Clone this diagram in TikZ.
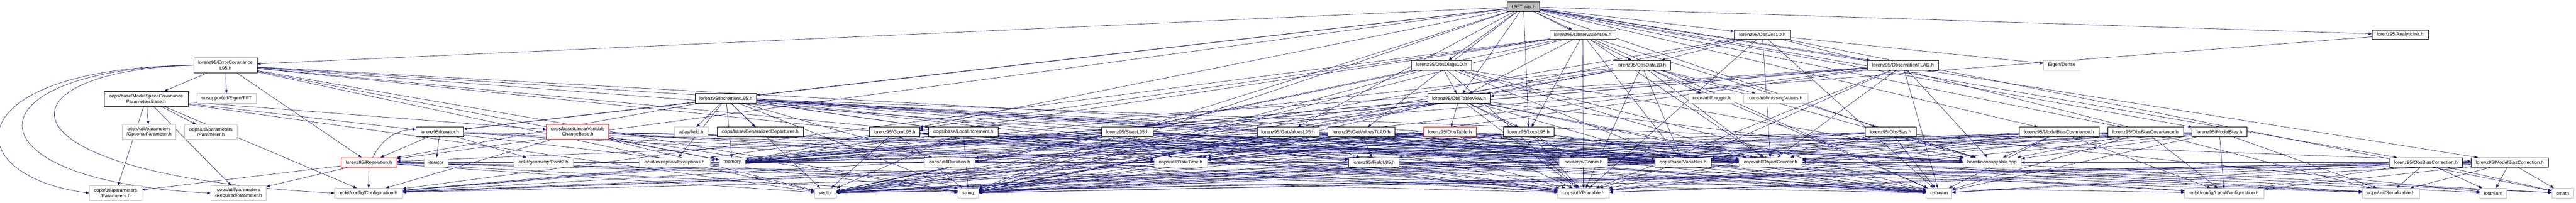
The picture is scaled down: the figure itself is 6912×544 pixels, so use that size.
\documentclass[tikz,border=0pt]{standalone}
\usepackage{fontspec}
\setmainfont{Liberation Sans}
\usetikzlibrary{arrows.meta}
\definecolor{edgeblue}{HTML}{191970}
\definecolor{boxgray}{HTML}{BFBFBF}
\pgfdeclarelayer{bg}
\pgfsetlayers{bg,main}
\begin{document}
\begin{tikzpicture}[x=1pt,y=-1pt,
  box/.style={draw=black, fill=white, line width=1pt, inner sep=0pt, minimum height=26pt, font=\fontsize{12.8}{14.6}\selectfont, align=center},
  ext/.style={box, draw=boxgray},
  trunc/.style={box, draw=red},
  root/.style={box, fill=boxgray},
  two/.style={minimum height=40pt},
  wd/.style={minimum width=#1},
  e/.style={draw=edgeblue, line width=0.9pt, -{Triangle[length=9pt,width=7pt]}}
]
\useasboundingbox (0,0) rectangle (6912,544);
% row 1
\node[root, wd=87pt] (tr) at (4088,18) {L95Traits.h};
% row 2
\node[box, wd=177pt] (obs) at (4247,93) {lorenz95/ObservationL95.h};
\node[box, wd=151pt] (ovec) at (4729,93) {lorenz95/ObsVec1D.h};
\node[box, wd=150pt] (ainit) at (6440,93) {lorenz95/AnalyticInit.h};
% row 3
\node[box, two, wd=170pt] (ecov) at (605,175) {lorenz95/ErrorCovariance\\L95.h};
\node[box, wd=161pt] (odiag) at (3868,175) {lorenz95/ObsDiags1D.h};
\node[box, wd=154pt] (odata) at (4405,175) {lorenz95/ObsData1D.h};
\node[box, wd=191pt] (otlad) at (5106,175) {lorenz95/ObservationTLAD.h};
\node[ext, wd=97pt] (edense) at (5532,175) {Eigen/Dense};
% row 4
\node[box, two, wd=225pt] (mscp) at (392,265) {oops/base/ModelSpaceCovariance\\ParametersBase.h};
\node[ext, wd=159pt] (fft) at (608,264) {unsupported/Eigen/FFT};
\node[box, wd=165pt] (incr) at (1948,264) {lorenz95/IncrementL95.h};
\node[box, wd=167pt] (otv) at (3915,264) {lorenz95/ObsTableView.h};
\node[ext, wd=124pt] (logger) at (4593,264) {oops/util/Logger.h};
\node[ext, wd=172pt] (missv) at (4765,264) {oops/util/missingValues.h};
% row 5
\node[ext, two, wd=144pt] (optp) at (400,354) {oops/util/parameters\\/OptionalParameter.h};
\node[ext, two, wd=140pt] (parp) at (566,354) {oops/util/parameters\\/Parameter.h};
\node[box, wd=127pt] (iter) at (1180,354) {lorenz95/Iterator.h};
\node[trunc, two, wd=167pt] (lvcb) at (1550,354) {oops/base/LinearVariable\\ChangeBase.h};
\node[ext, wd=89pt] (atlas) at (1855,354) {atlas/field.h};
\node[box, wd=231pt] (gdep) at (2040,354) {oops/base/GeneralizedDepartures.h};
\node[box, wd=135pt] (gom) at (2400,354) {lorenz95/GomL95.h};
\node[box, wd=186pt] (locinc) at (2585,354) {oops/base/LocalIncrement.h};
\node[box, wd=138pt] (state) at (3025,354) {lorenz95/StateL95.h};
\node[box, wd=166pt] (gvl) at (3456,354) {lorenz95/GetValuesL95.h};
\node[box, wd=180pt] (gvt) at (3653,354) {lorenz95/GetValuesTLAD.h};
\node[trunc, wd=141pt] (otab) at (3890,354) {lorenz95/ObsTable.h};
\node[box, wd=135pt] (locs) at (4102,354) {lorenz95/LocsL95.h};
\node[box, wd=137pt] (obias) at (5073,354) {lorenz95/ObsBias.h};
\node[box, wd=214pt] (mbcov) at (5525,354) {lorenz95/ModelBiasCovariance.h};
\node[box, wd=203pt] (obcov) at (5757,354) {lorenz95/ObsBiasCovariance.h};
\node[box, wd=147pt] (mbias) at (5955,354) {lorenz95/ModelBias.h};
% row 6
\node[trunc, wd=149pt] (res) at (990,436) {lorenz95/Resolution.h};
\node[ext, wd=63pt] (itr) at (1170,436) {iterator};
\node[ext, wd=159pt] (pt2) at (1458,436) {eckit/geometry/Point2.h};
\node[ext, wd=191pt] (exc) at (1810,436) {eckit/exception/Exceptions.h};
\node[ext, wd=69pt] (mem) at (1965,436) {memory};
\node[ext, wd=135pt] (dur) at (2548,436) {oops/util/Duration.h};
\node[ext, wd=143pt] (dt) at (3168,436) {oops/util/DateTime.h};
\node[box, wd=135pt] (field) at (3686,436) {lorenz95/FieldL95.h};
\node[ext, wd=130pt] (comm) at (4249,436) {eckit/mpi/Comm.h};
\node[box, wd=150pt] (vars) at (4516,436) {oops/base/Variables.h};
\node[ext, wd=169pt] (ocnt) at (4751,436) {oops/util/ObjectCounter.h};
\node[ext, wd=156pt] (noncp) at (5345,436) {boost/noncopyable.hpp};
\node[box, wd=196pt] (obcorr) at (6509,436) {lorenz95/ObsBiasCorrection.h};
\node[box, wd=207pt] (mbcorr) at (6734,436) {lorenz95/ModelBiasCorrection.h};
% row 7
\node[ext, two, wd=141pt] (params) at (310,518) {oops/util/parameters\\/Parameters.h};
\node[ext, two, wd=149pt] (reqp) at (640,518) {oops/util/parameters\\/RequiredParameter.h};
\node[ext, wd=182pt] (conf) at (989,518) {eckit/config/Configuration.h};
\node[ext, wd=59pt] (vec) at (2215,518) {vector};
\node[ext, wd=55pt] (str) at (2598,518) {string};
\node[ext, wd=138pt] (print) at (4249,518) {oops/util/Printable.h};
\node[ext, wd=69pt] (ostr) at (5203,518) {ostream};
\node[ext, wd=212pt] (lconf) at (5968,518) {eckit/config/LocalConfiguration.h};
\node[ext, wd=153pt] (ser) at (6415,518) {oops/util/Serializable.h};
\node[ext, wd=71pt] (ios) at (6690,518) {iostream};
\node[ext, wd=58pt] (cmath) at (6876,518) {cmath};

\begin{pgfonlayer}{bg}
\fill[white] (0,0) rectangle (6912,544);
\foreach \src/\dst in {%
 tr/obs, tr/ovec, tr/ainit, tr/ecov, tr/odiag, tr/odata, tr/otlad, tr/incr, tr/otv, tr/iter, tr/gom, tr/state, tr/gvl, tr/gvt, tr/locs, tr/obias, tr/mbcov, tr/obcov, tr/mbias, tr/res, tr/obcorr, tr/mbcorr, tr/str,
 obs/otv, obs/gom, obs/locs, obs/vars, obs/ocnt, obs/print, obs/noncp, obs/ostr, obs/str, obs/vec, obs/mem, obs/conf,
 ovec/odata, ovec/edense, ovec/ocnt, ovec/print, ovec/ser, ovec/ostr, ovec/str, ovec/vec, ovec/cmath,
 ainit/conf,
 ecov/fft, ecov/mscp, ecov/res, ecov/dt, ecov/ocnt, ecov/print, ecov/noncp, ecov/ostr, ecov/str, ecov/vec, ecov/mem,
 odiag/otv, odiag/vars, odiag/ocnt, odiag/print, odiag/ostr, odiag/str, odiag/vec, odiag/noncp,
 odata/otv, odata/logger, odata/missv, odata/ocnt, odata/vars, odata/print, odata/ostr, odata/str, odata/vec, odata/noncp, odata/mem,
 otlad/otv, otlad/gom, otlad/vars, otlad/ocnt, otlad/print, otlad/noncp, otlad/ostr, otlad/str, otlad/vec, otlad/mem, otlad/conf,
 mscp/optp, mscp/parp, mscp/params, mscp/reqp, mscp/lvcb, mscp/str, mscp/vec, mscp/conf,
 incr/atlas, incr/gdep, incr/mem, incr/ostr, incr/str, incr/vec, incr/field, incr/res, incr/iter, incr/locinc, incr/vars, incr/dt, incr/dur, incr/ocnt, incr/print, incr/ser, incr/exc, incr/mbcorr, incr/lconf, incr/cmath,
 otv/otab, otv/locs, otv/print, otv/ocnt, otv/str, otv/vec, otv/mem, otv/ostr, otv/noncp, otv/vars, otv/dt, otv/conf, otv/comm,
 iter/itr, iter/pt2, iter/res, iter/print, iter/ostr, iter/ocnt,
 lvcb/vars, lvcb/dt, lvcb/ocnt, lvcb/print, lvcb/noncp, lvcb/str, lvcb/vec, lvcb/mem, lvcb/conf,
 gom/vec, gom/str, gom/ostr, gom/vars, gom/ocnt, gom/print, gom/ser, gom/exc, gom/mem,
 locinc/vec, locinc/str, locinc/vars, locinc/print, locinc/mem, locinc/ostr,
 state/dt, state/field, state/res, state/str, state/vec, state/mem, state/ostr, state/vars, state/dur, state/ocnt, state/print, state/ser, state/exc, state/lconf, state/cmath, state/ios,
 gvl/dt, gvl/field, gvl/str, gvl/mem, gvl/ostr, gvl/vars, gvl/ocnt, gvl/print, gvl/vec, gvl/noncp,
 gvt/dt, gvt/field, gvt/str, gvt/mem, gvt/ostr, gvt/vars, gvt/ocnt, gvt/print, gvt/vec, gvt/noncp,
 otab/comm, otab/print, otab/ocnt, otab/str, otab/vec, otab/mem, otab/ostr, otab/noncp, otab/dt, otab/dur, otab/conf,
 locs/comm, locs/print, locs/ocnt, locs/str, locs/vec, locs/mem, locs/ostr, locs/dt, locs/field,
 obias/noncp, obias/ostr, obias/str, obias/vec, obias/mem, obias/conf, obias/print, obias/ocnt, obias/vars, obias/ios,
 mbcov/noncp, mbcov/ostr, mbcov/str, mbcov/lconf, mbcov/conf, mbcov/print, mbcov/ocnt, mbcov/vec,
 obcov/lconf, obcov/noncp, obcov/ostr, obcov/str, obcov/vec, obcov/mem, obcov/print, obcov/ocnt, obcov/conf,
 mbias/lconf, mbias/noncp, mbias/ostr, mbias/str, mbias/vec, mbias/mem, mbias/print, mbias/ocnt, mbias/ser,
 res/conf, res/reqp, res/params, res/str, res/vec, res/print, res/ostr, res/ocnt, res/lconf,
 field/vec, field/str, field/ostr, field/print, field/ser,
 vars/vec, vars/str, vars/ostr, vars/print, vars/conf,
 obcorr/ser, obcorr/ios, obcorr/cmath, obcorr/ostr, obcorr/str, obcorr/vec, obcorr/print, obcorr/ocnt, obcorr/lconf, obcorr/noncp,
 mbcorr/ser, mbcorr/ios, mbcorr/cmath, mbcorr/ostr, mbcorr/str, mbcorr/vec, mbcorr/print, mbcorr/ocnt, mbcorr/lconf, mbcorr/noncp}{%
  \draw[e] (\src) -- (\dst);
}
% loops on the far left, as in the reference
\draw[e] (ecov.west) .. controls (-120,182) and (-120,470) .. (params.west);
\draw[e] (ecov.west) .. controls (-90,186) and (-110,485) .. (reqp.west);
\draw[e] (ecov.west) .. controls (-20,190) and (-40,470) .. (conf.west);
\draw[e] (res) to[bend left=30] (iter);
\end{pgfonlayer}
\end{tikzpicture}
\end{document}
